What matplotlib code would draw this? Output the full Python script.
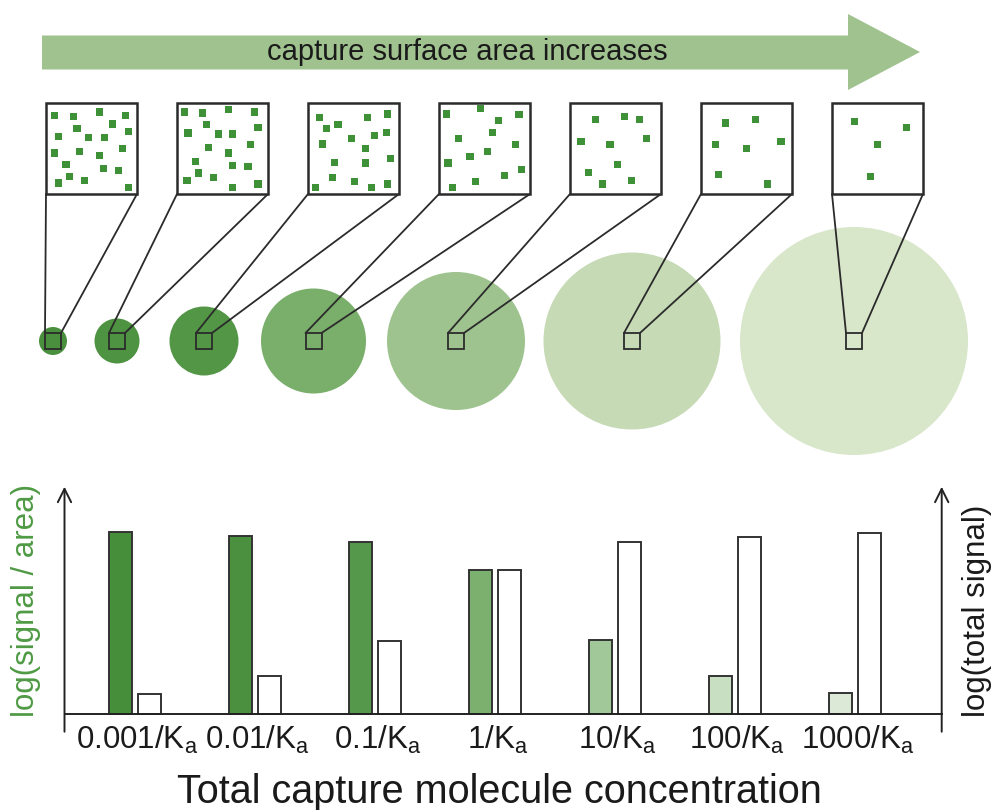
import matplotlib
matplotlib.use('Agg')
import matplotlib.pyplot as plt
from matplotlib.patches import Polygon, Rectangle, Circle
import numpy as np

plt.rcParams['font.family'] = ['Liberation Sans', 'DejaVu Sans']
plt.rcParams['mathtext.fontset'] = 'custom'
plt.rcParams['mathtext.rm'] = 'Liberation Sans'
plt.rcParams['mathtext.it'] = 'Liberation Sans:italic'

# ---------------- data ----------------
categories = ['0.001/K$_\\mathrm{a}$', '0.01/K$_\\mathrm{a}$', '0.1/K$_\\mathrm{a}$',
              '1/K$_\\mathrm{a}$', '10/K$_\\mathrm{a}$', '100/K$_\\mathrm{a}$',
              '1000/K$_\\mathrm{a}$']
signal_per_area = [182, 178, 172, 144, 74, 38, 21]
total_signal = [20, 38, 73, 144, 172, 177, 181]
bar_colors = ['#468e3a', '#4a903e', '#56984b', '#7bb06f', '#a0c898', '#c8dfc2', '#dce9d6']
circle_colors = ['#4a8f3d', '#4e9341', '#539646', '#7aae6b', '#9ec38e', '#c5dab5', '#d8e6ca']
circle_radius = [14, 22.5, 34.5, 52.5, 69, 88.5, 114]

# fractional (x, y) positions of capture molecules inside each zoom box
dots = [
    [(0.09, 0.14), (0.30, 0.15), (0.59, 0.10), (0.87, 0.14), (0.73, 0.23), (0.34, 0.28),
     (0.91, 0.31), (0.14, 0.37), (0.47, 0.38), (0.64, 0.38), (0.09, 0.55), (0.37, 0.53),
     (0.59, 0.58), (0.84, 0.50), (0.22, 0.68), (0.63, 0.72), (0.80, 0.74), (0.26, 0.81),
     (0.42, 0.85), (0.14, 0.88), (0.91, 0.93)],
    [(0.08, 0.10), (0.28, 0.11), (0.57, 0.07), (0.85, 0.10), (0.32, 0.24), (0.89, 0.27),
     (0.12, 0.33), (0.46, 0.34), (0.61, 0.34), (0.81, 0.46), (0.35, 0.49), (0.57, 0.55),
     (0.20, 0.64), (0.61, 0.69), (0.78, 0.70), (0.24, 0.77), (0.40, 0.82), (0.11, 0.85),
     (0.61, 0.93), (0.89, 0.89)],
    [(0.13, 0.16), (0.20, 0.28), (0.33, 0.24), (0.65, 0.16), (0.87, 0.12), (0.48, 0.39),
     (0.73, 0.36), (0.86, 0.32), (0.16, 0.45), (0.63, 0.50), (0.29, 0.65), (0.63, 0.66),
     (0.91, 0.61), (0.27, 0.82), (0.51, 0.86), (0.08, 0.93), (0.70, 0.93), (0.87, 0.89)],
    [(0.08, 0.12), (0.46, 0.06), (0.65, 0.19), (0.88, 0.13), (0.59, 0.32), (0.21, 0.39),
     (0.84, 0.46), (0.53, 0.53), (0.34, 0.59), (0.10, 0.66), (0.91, 0.73), (0.72, 0.80),
     (0.40, 0.86), (0.15, 0.93)],
    [(0.28, 0.18), (0.60, 0.15), (0.76, 0.18), (0.12, 0.42), (0.44, 0.46), (0.84, 0.39),
     (0.52, 0.68), (0.20, 0.76), (0.36, 0.89), (0.68, 0.85)],
    [(0.27, 0.22), (0.60, 0.18), (0.16, 0.46), (0.50, 0.50), (0.88, 0.42), (0.19, 0.79),
     (0.73, 0.89)],
    [(0.25, 0.20), (0.82, 0.27), (0.50, 0.46), (0.42, 0.81)],
]

# ---------------- layout ----------------
W, H = 995, 810
fig = plt.figure(figsize=(W / 100, H / 100), dpi=100)
ax0 = fig.add_axes([0, 0, 1, 1])
ax0.set_xlim(0, W)
ax0.set_ylim(H, 0)
ax0.axis('off')

edge = '#2b2b2b'

# big arrow
arrow_pts = [(42, 35.5), (848, 35.5), (848, 14), (920, 52), (848, 90), (848, 69.5), (42, 69.5)]
ax0.add_patch(Polygon(arrow_pts, closed=True, facecolor='#9fc28e', edgecolor='none', zorder=1))
ax0.text(467.5, 60.5, 'capture surface area increases', fontsize=21, color='#1a1a1a',
         ha='center', va='baseline', zorder=2)

# circles, zoom boxes, connecting lines
circle_cx = [53, 117, 204, 313.5, 456, 632, 854]
cy = 341
sq = 16
box_left = [46 + 131 * i for i in range(7)]
box_top, box_size = 103, 91
for i in range(7):
    ax0.add_patch(Circle((circle_cx[i], cy), circle_radius[i], facecolor=circle_colors[i],
                         edgecolor='none', zorder=1))
    sx0, sy0 = circle_cx[i] - sq / 2, cy - sq / 2
    ax0.add_patch(Rectangle((sx0, sy0), sq, sq, facecolor='none', edgecolor=edge, lw=1.3, zorder=3))
    bl = box_left[i]
    bb = box_top + box_size
    ax0.add_patch(Rectangle((bl, box_top), box_size, box_size, facecolor='white',
                            edgecolor=edge, lw=1.8, zorder=3))
    ax0.plot([bl, sx0], [bb, sy0], color=edge, lw=1.3, zorder=2, solid_capstyle='round')
    ax0.plot([bl + box_size, sx0 + sq], [bb, sy0], color=edge, lw=1.3, zorder=2,
             solid_capstyle='round')
    d = np.array(dots[i])
    ax0.scatter(bl + d[:, 0] * box_size, box_top + d[:, 1] * box_size, marker='s', s=27,
                color='#3e9137', edgecolors='none', zorder=4)

# ---------------- bar chart ----------------
ax_l, ax_r, ax_t, ax_b = 64.5, 941.7, 486.7, 731.7
base_px = 713.7
grp0, grp_step = 135, 120
ax = fig.add_axes([ax_l / W, (H - ax_b) / H, (ax_r - ax_l) / W, (ax_b - ax_t) / H])
ax.patch.set_alpha(0)
ymin, ymax = -(ax_b - base_px), base_px - ax_t
xmin, xmax = (ax_l - grp0) / grp_step, (ax_r - grp0) / grp_step
ax.set_xlim(xmin, xmax)
ax.set_ylim(ymin, ymax)
ax.axis('off')

x = np.arange(len(categories))
bw = 23 / grp_step
off = 14.5 / grp_step
ax.bar(x - off, signal_per_area, bw, color=bar_colors, edgecolor='#333333', linewidth=1.4, zorder=2)
ax.bar(x + off, total_signal, bw, color='white', edgecolor='#333333', linewidth=1.4, zorder=2)

ax.plot([xmin, xmax], [0, 0], color='#222222', lw=1.4, zorder=3, clip_on=False)
for xa in (xmin, xmax):
    ax.annotate('', xy=(xa, ymax), xytext=(xa, ymin),
                arrowprops=dict(arrowstyle='->', lw=1.4, color='#222222', shrinkA=0, shrinkB=0,
                                mutation_scale=24),
                annotation_clip=False)

for i, lab in enumerate(categories):
    ax.text(i + 0.02, -(749.3 - base_px), lab, fontsize=22.5, ha='center', va='baseline',
            color='#1a1a1a', clip_on=False)

ax0.text(26, 717, 'log(signal / area)', rotation=90, fontsize=22.5, color='#4f9a45',
         ha='center', va='bottom')
ax0.text(977, 717, 'log(total signal)', rotation=90, fontsize=22.5, color='#1a1a1a',
         ha='center', va='bottom')
ax0.text(499, 803, 'Total capture molecule concentration', fontsize=28.5, color='#1a1a1a',
         ha='center', va='baseline')

fig.savefig('out.png', dpi=100)
